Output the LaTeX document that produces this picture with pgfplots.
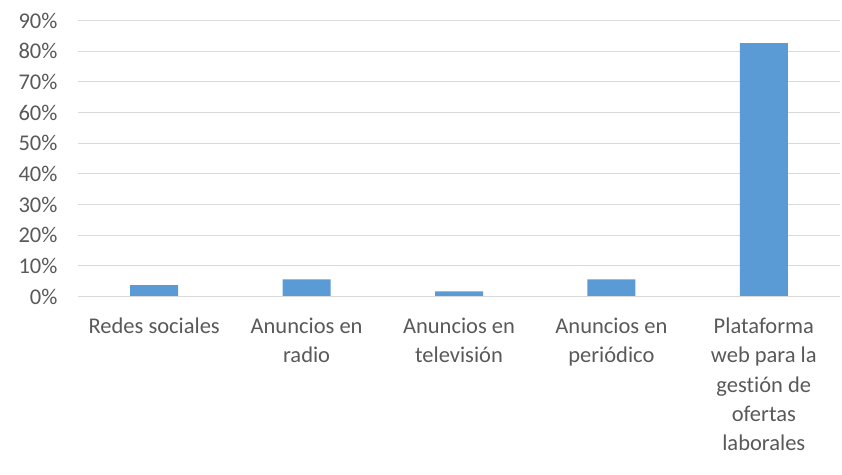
\documentclass[border=0pt]{standalone}
\usepackage{pgfplots}
\pgfplotsset{compat=1.18}
\usepackage{fontspec}
\setmainfont{Carlito}[Ligatures=NoCommon]
\definecolor{barblue}{HTML}{5B9BD5}
\definecolor{txtgray}{HTML}{595959}
\definecolor{gridgray}{HTML}{D9D9D9}
\begin{document}
\begin{tikzpicture}
\useasboundingbox (-78pt,-177.5pt) rectangle (764pt,296.5pt);
\begin{axis}[
  at={(0pt,0pt)}, anchor=south west,
  scale only axis,
  width=762pt, height=276pt,
  xmin=-0.5, xmax=4.5,
  ymin=0, ymax=90,
  ytick={0,10,...,90},
  yticklabel={\pgfmathprintnumber{\tick}\%},
  /pgf/number format/assume math mode=true,
  xtick={0,1,2,3,4},
  xticklabels={Redes sociales, Anuncios en\\radio, Anuncios en\\televisión, Anuncios en\\periódico, Plataforma\\web para la\\gestión de\\ofertas\\laborales},
  xticklabel style={align=center, font=\fontsize{22.5}{29.3}\selectfont, text=txtgray, anchor=north, yshift=-18pt},
  yticklabel style={font=\fontsize{22.5}{26}\selectfont, text=txtgray, xshift=-17pt},
  major tick length=0pt,
  ymajorgrids,
  grid style={gridgray, line width=1pt},
  axis line style={draw=none},
  axis x line*=bottom,
  axis y line*=left,
  clip=false,
]
\addplot[ybar, bar width=48pt, fill=barblue, draw=none] coordinates {(0,3.7) (1,5.6) (2,1.7) (3,5.6) (4,82.6)};
\draw[gridgray, line width=1pt] (axis cs:-0.5,0) -- (axis cs:4.5,0);
\end{axis}
\end{tikzpicture}
\end{document}
